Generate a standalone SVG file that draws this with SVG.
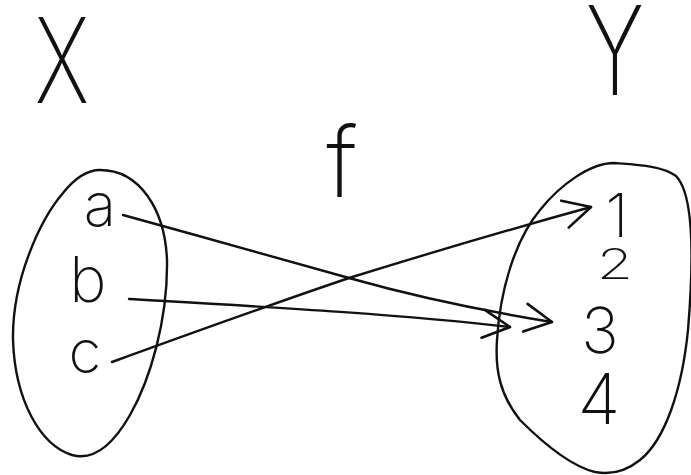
<svg xmlns="http://www.w3.org/2000/svg" width="691" height="475" viewBox="0 0 691 475">
<defs>
<style>
.hand{fill:none;stroke:#111;stroke-width:2.4;stroke-linecap:round;stroke-linejoin:round}
.lbl{font-family:Inter,"Liberation Sans",sans-serif;font-weight:200;fill:#111;text-anchor:middle}
</style>
<marker id="ah" viewBox="0 0 34 34" refX="30" refY="17" markerWidth="34" markerHeight="34" markerUnits="userSpaceOnUse" orient="auto">
<path d="M3,3 L30,17 L3,31" fill="none" stroke="#111" stroke-width="2.6" stroke-linecap="round" stroke-linejoin="round"/>
</marker>
</defs>
<rect width="691" height="475" fill="#fff"/>
<g id="X"><text class="lbl" transform="translate(62,103) scale(0.72,1)" font-size="118">X</text></g>
<g id="Y"><text class="lbl" transform="translate(615,95) scale(0.72,1)" font-size="124">Y</text></g>
<g id="f"><text class="lbl" x="342" y="197" font-size="98">f</text></g>
<g id="setX">
<path class="hand" d="M100,170 C140,170 165,210 167,260 C168,320 150,380 130,415 C110,450 90,460 72,455 C40,445 15,400 13,340 C12,280 40,220 63,193 C75,178 88,170 100,170 Z"/>
<text class="lbl" x="100" y="226" font-size="60">a</text>
<text class="lbl" x="88" y="302" font-size="63">b</text>
<text class="lbl" x="85" y="373" font-size="60">c</text>
</g>
<g id="setY">
<path class="hand" d="M614,163 C640,165 662,166 676,176 C695,195 693,270 688,330 C682,390 665,440 640,460 C625,472 610,475 595,472 C570,466 540,440 520,420 C500,395 495,370 497,340 C500,290 515,240 540,210 C560,185 590,163 614,163 Z"/>
<text class="lbl" x="617" y="237" font-size="60">1</text>
<text class="lbl" transform="translate(615,279) scale(1.4,1)" font-size="42">2</text>
<text class="lbl" x="600" y="353" font-size="63">3</text>
<text class="lbl" x="599" y="424" font-size="70">4</text>
</g>
<g id="connectors">
<path class="hand" d="M123,215 C200,236 290,262 349,278 C420,298 490,312 552,322" marker-end="url(#ah)"/>
<path class="hand" d="M129,299 C250,306 400,314 510,327" marker-end="url(#ah)"/>
<path class="hand" d="M112,362 C200,330 290,298 349,278 C420,256 500,232 591,207" marker-end="url(#ah)"/>
</g>
</svg>
